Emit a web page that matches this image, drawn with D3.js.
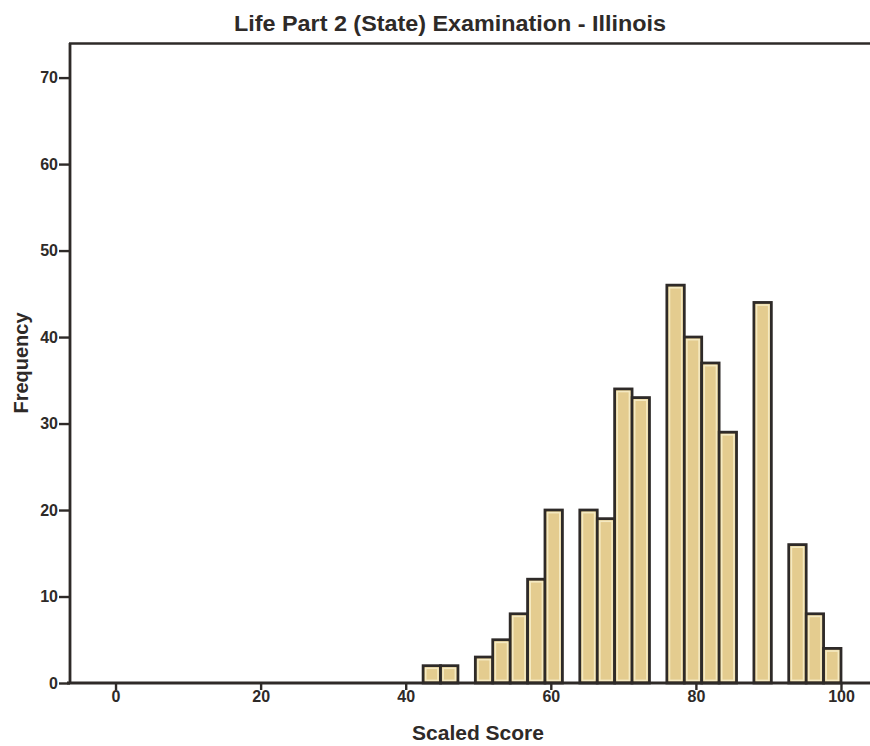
<!DOCTYPE html>
<html><head><meta charset="utf-8">
<script src="https://cdn.jsdelivr.net/npm/d3@7"></script>
<style>body{margin:0;background:#fff}svg{display:block}</style>
</head><body>
<script>
const title = "Life Part 2 (State) Examination - Illinois";
const xLabel = "Scaled Score";
const yLabel = "Frequency";
const binStarts = [42.4,44.8,47.2,49.6,52.0,54.4,56.8,59.2,61.6,64.0,66.4,68.8,71.2,73.6,76.0,78.4,80.8,83.2,85.6,88.0,90.4,92.8,95.2,97.6];
const binWidth = 2.4;
const frequencies = [2,2,0,3,5,8,12,20,0,20,19,34,33,0,46,40,37,29,0,44,0,16,8,4];
const xTicks = [0,20,40,60,80,100];
const yTicks = [0,10,20,30,40,50,60,70];

const W = 870, H = 746;
const ink = "#2e2a28";
const sans = "Liberation Sans, Arial, sans-serif";
const svg = d3.select("body").append("svg").attr("width", W).attr("height", H);

const x = d3.scaleLinear().domain([-6, 104]).range([72, 870]);
const y = d3.scaleLinear().domain([0, 74]).range([683, 43]);

// title
svg.append("text").attr("x", 450).attr("y", 31).attr("text-anchor", "middle")
  .attr("font-family", sans).attr("font-weight", "bold")
  .attr("font-size", 22).attr("textLength", 432).attr("lengthAdjust", "spacingAndGlyphs")
  .attr("fill", ink).text(title);

// top frame line
svg.append("line").attr("x1", 69).attr("x2", 870).attr("y1", 43.5).attr("y2", 43.5)
  .attr("stroke", ink).attr("stroke-width", 2.6);

// bars
const data = binStarts.map((s, i) => ({s, f: frequencies[i]})).filter(d => d.f > 0);
const g = svg.append("g");
g.selectAll("rect.bar").data(data).join("rect").attr("class", "bar")
  .attr("x", d => x(d.s)).attr("width", d => x(d.s + binWidth) - x(d.s))
  .attr("y", d => y(d.f)).attr("height", d => y(0) - y(d.f))
  .attr("fill", "#e4cc8f").attr("stroke", ink).attr("stroke-width", 2.8);
g.selectAll("rect.inner").data(data).join("rect").attr("class", "inner")
  .attr("x", d => x(d.s) + 2.6).attr("width", d => x(d.s + binWidth) - x(d.s) - 5.2)
  .attr("y", d => y(d.f) + 2.6).attr("height", d => Math.max(0, y(0) - y(d.f) - 5.2))
  .attr("fill", "none").attr("stroke", "#f5eac2").attr("stroke-width", 1.6);

// axes
const yAxis = svg.append("g").attr("transform", "translate(70,0)")
  .call(d3.axisLeft(y).tickValues(yTicks).tickSize(11).tickSizeOuter(0).tickPadding(1));
const xAxis = svg.append("g").attr("transform", "translate(0,683)")
  .call(d3.axisBottom(x).tickValues(xTicks).tickSize(7).tickSizeOuter(0).tickPadding(1));
[yAxis, xAxis].forEach(a => {
  a.select(".domain").attr("stroke", ink).attr("stroke-width", 2.8);
  a.selectAll(".tick line").attr("stroke", ink).attr("stroke-width", 2.4);
  a.selectAll(".tick text").attr("fill", ink).attr("font-family", sans)
    .attr("font-weight", "bold").attr("font-size", 16);
});
yAxis.select(".domain").attr("d", "M0,43V683");
xAxis.select(".domain").attr("d", "M67,0H870");

// axis labels
svg.append("text").attr("x", 478).attr("y", 740).attr("text-anchor", "middle")
  .attr("font-family", sans).attr("font-weight", "bold")
  .attr("font-size", 21).attr("fill", ink).text(xLabel);
svg.append("text").attr("transform", "translate(27.5,363) rotate(-90)").attr("text-anchor", "middle")
  .attr("font-family", sans).attr("font-weight", "bold")
  .attr("font-size", 20).attr("fill", ink).text(yLabel);
</script>
</body></html>
